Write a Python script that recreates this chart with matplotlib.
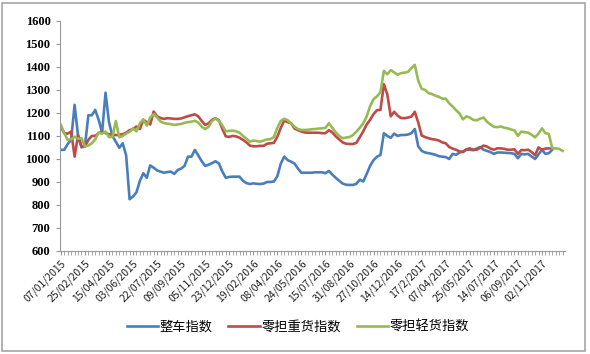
import numpy as np
import matplotlib
import matplotlib.pyplot as plt
from matplotlib.patches import Rectangle

matplotlib.use('Agg')
plt.rcParams['font.family'] = ['Noto Sans CJK SC', 'DejaVu Sans']

tick_labels = ["07/01/2015", "25/02/2015", "15/04/2015", "03/06/2015", "22/07/2015",
               "09/09/2015", "05/11/2015", "23/12/2015", "19/02/2016", "08/04/2016",
               "24/05/2016", "15/07/2016", "31/08/2016", "27/10/2016", "14/12/2016",
               "17/2/2017", "07/04/2017", "25/05/2017", "14/07/2017", "06/09/2017",
               "02/11/2017"]

# 整车指数 (weekly)
whole_truck = [1039, 1040, 1065, 1085, 1235, 1100, 1050, 1055, 1190, 1190,
               1213, 1170, 1115, 1288, 1160, 1100, 1075, 1048, 1068, 1015,
               825, 837, 855, 905, 938, 918, 972, 962, 950, 945,
               940, 943, 945, 935, 952, 958, 970, 1010, 1010, 1039,
               1015, 990, 970, 975, 982, 990, 980, 945, 918, 922,
               923, 923, 923, 905, 895, 891, 894, 892, 891, 893,
               900, 900, 902, 925, 980, 1010, 995, 988, 980, 958,
               940, 940, 940, 940, 942, 942, 942, 938, 948, 932,
               918, 905, 893, 888, 887, 887, 892, 910, 902, 935,
               970, 995, 1010, 1017, 1112, 1100, 1092, 1110, 1100, 1104,
               1104, 1106, 1112, 1130, 1055, 1035, 1028, 1025, 1022, 1018,
               1012, 1010, 1008, 1000, 1022, 1018, 1028, 1032, 1040, 1040,
               1038, 1045, 1052, 1040, 1035, 1030, 1022, 1028, 1028, 1027,
               1026, 1025, 1022, 1003, 1022, 1020, 1022, 1010, 1000, 1020,
               1040, 1022, 1025, 1040, None, None, None]

# 零担重货指数
ltl_heavy = [1140, 1112, 1110, 1119, 1010, 1104, 1055, 1054, 1083, 1100,
             1100, 1112, 1119, 1112, 1108, 1104, 1104, 1104, 1108, 1114,
             1125, 1130, 1141, 1130, 1170, 1160, 1150, 1206, 1185, 1178,
             1174, 1177, 1176, 1174, 1174, 1176, 1181, 1186, 1190, 1194,
             1185, 1165, 1148, 1155, 1170, 1177, 1168, 1130, 1098, 1096,
             1100, 1098, 1092, 1083, 1072, 1058, 1055, 1055, 1057, 1057,
             1066, 1068, 1070, 1097, 1135, 1167, 1160, 1155, 1132, 1125,
             1119, 1115, 1114, 1114, 1114, 1114, 1112, 1112, 1125, 1115,
             1098, 1085, 1072, 1066, 1065, 1065, 1070, 1095, 1120, 1150,
             1170, 1195, 1212, 1213, 1325, 1280, 1185, 1205, 1188, 1178,
             1177, 1180, 1184, 1205, 1158, 1102, 1095, 1090, 1086, 1084,
             1080, 1072, 1068, 1052, 1045, 1040, 1033, 1030, 1042, 1046,
             1040, 1040, 1048, 1058, 1054, 1045, 1040, 1046, 1046, 1044,
             1040, 1040, 1042, 1022, 1039, 1038, 1040, 1030, 1016, 1050,
             1040, 1045, 1046, 1045, None, None, None]

# 零担轻货指数
ltl_light = [1148, 1112, 1083, 1085, 1097, 1088, 1090, 1054, 1058, 1068,
             1085, 1115, 1110, 1119, 1095, 1096, 1165, 1094, 1100, 1110,
             1118, 1133, 1120, 1155, 1172, 1145, 1180, 1195, 1180, 1163,
             1156, 1153, 1151, 1148, 1150, 1152, 1157, 1160, 1162, 1166,
             1158, 1140, 1130, 1140, 1165, 1176, 1165, 1145, 1120, 1122,
             1123, 1120, 1114, 1100, 1088, 1075, 1080, 1078, 1075, 1080,
             1085, 1086, 1095, 1135, 1165, 1175, 1168, 1155, 1140, 1130,
             1126, 1126, 1127, 1129, 1130, 1132, 1133, 1135, 1155, 1135,
             1115, 1100, 1090, 1093, 1095, 1104, 1118, 1136, 1155, 1185,
             1230, 1260, 1272, 1290, 1383, 1368, 1386, 1376, 1366, 1373,
             1375, 1378, 1395, 1409, 1340, 1305, 1300, 1286, 1282, 1275,
             1270, 1262, 1262, 1242, 1228, 1212, 1198, 1172, 1185, 1180,
             1170, 1168, 1175, 1180, 1162, 1150, 1140, 1138, 1141, 1136,
             1133, 1128, 1124, 1100, 1119, 1116, 1114, 1105, 1094, 1110,
             1133, 1112, 1109, 1046, 1046, 1044, 1035]

series_names = ["整车指数", "零担重货指数", "零担轻货指数"]
colors = ["#4A7EBB", "#BE4B48", "#98B954"]


def to_arr(vals):
    return np.array([np.nan if v is None else v for v in vals], dtype=float)


fig = plt.figure(figsize=(5.9, 3.54), dpi=100)
fig.patches.append(Rectangle((0.004, 0.008), 0.988, 0.984, transform=fig.transFigure,
                             fill=False, edgecolor="#A6A6A6", linewidth=1.2))
ax = fig.add_axes([0.102, 0.291, 0.855, 0.650])

x = np.arange(len(ltl_light))
for vals, name, c in zip([whole_truck, ltl_heavy, ltl_light], series_names, colors):
    ax.plot(x, to_arr(vals), color=c, linewidth=1.9, label=name)

ax.set_xlim(-0.2, 146.6)
ax.set_ylim(600, 1600)
ax.set_yticks(range(600, 1601, 100))
ax.set_yticklabels([str(v) for v in range(600, 1601, 100)],
                   family=['Liberation Serif', 'DejaVu Serif'], fontweight='bold', fontsize=9)

ax.set_xticks(range(0, 141, 7))
ax.set_xticklabels(tick_labels, rotation=45, ha='right', rotation_mode='anchor',
                   fontsize=7.5, color="#222222")
ax.set_xticks(range(0, 147), minor=True)
ax.tick_params(axis='x', which='both', length=3, color="#999999", pad=2)
ax.tick_params(axis='y', length=3, color="#999999", pad=4)

for s in ['top', 'right']:
    ax.spines[s].set_visible(False)
for s in ['left', 'bottom']:
    ax.spines[s].set_color("#999999")

fig.legend(loc='center', bbox_to_anchor=(0.505, 0.077), ncol=3, frameon=False,
           fontsize=9.5, handlelength=2.4, handletextpad=0.1, columnspacing=1.2)

plt.savefig("out.png", dpi=100)
plt.close()
